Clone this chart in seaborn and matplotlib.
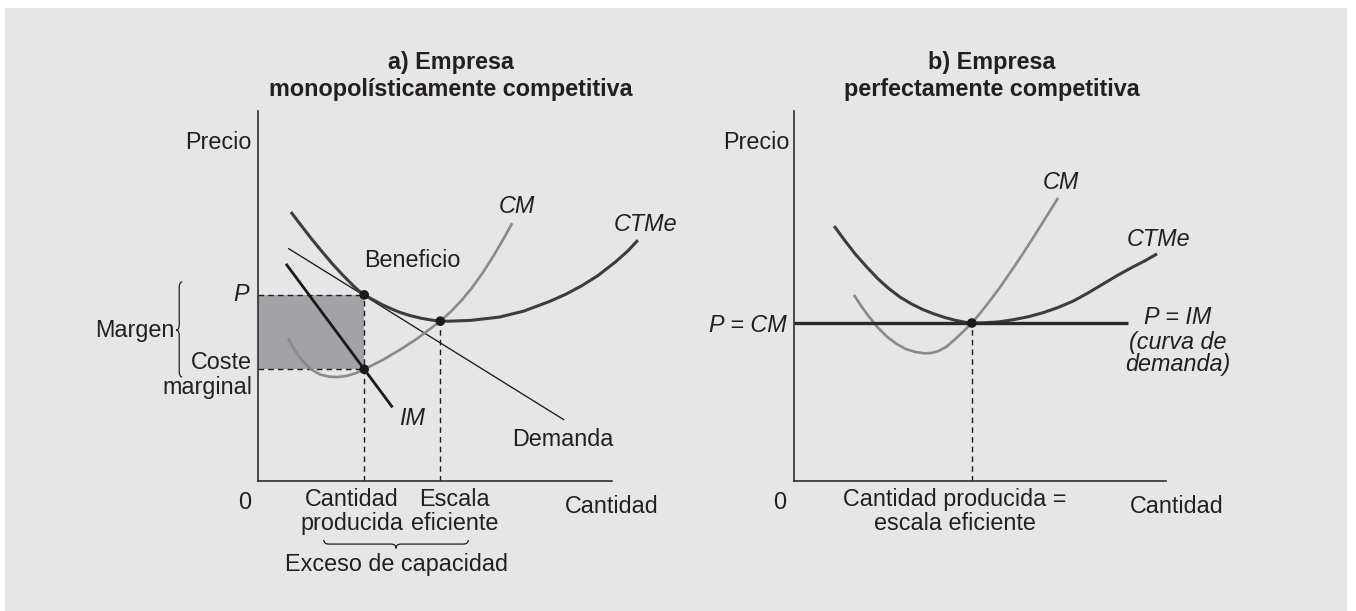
import matplotlib
matplotlib.use("Agg")
import matplotlib.pyplot as plt
from matplotlib.path import Path
from matplotlib.patches import PathPatch, Rectangle
import seaborn as sns

# ---------------- data ----------------
# Panel a: monopolistically competitive firm
a_ctme_x = [0.93, 1.20, 1.50, 1.80, 2.10, 2.40, 2.70, 2.85, 3.00, 3.25, 3.50, 3.75, 4.00,
            4.30, 4.60, 4.90, 5.15, 5.41, 6.00, 6.82, 7.50, 8.23, 8.70, 9.15, 9.60,
            10.11, 10.45, 10.73]
a_ctme_y = [7.27, 6.93, 6.56, 6.21, 5.87, 5.56, 5.27, 5.14, 5.03, 4.90, 4.77, 4.66, 4.56,
            4.47, 4.40, 4.35, 4.32, 4.32, 4.34, 4.43, 4.59, 4.85, 5.05, 5.28, 5.55,
            5.93, 6.22, 6.51]
a_cm_x = [0.85, 1.00, 1.15, 1.30, 1.50, 1.75, 2.00, 2.25, 2.50, 2.75, 3.00, 3.50, 4.00,
          4.50, 5.15, 5.45, 5.75, 6.05, 6.35, 6.65, 6.95, 7.18]
a_cm_y = [3.86, 3.60, 3.38, 3.20, 3.02, 2.88, 2.82, 2.81, 2.84, 2.91, 3.02, 3.26, 3.54,
          3.85, 4.32, 4.58, 4.88, 5.23, 5.63, 6.08, 6.57, 6.97]
a_dem_x = [0.85, 8.65]
a_dem_y = [6.29, 1.65]
a_im_x = [0.79, 3.80]
a_im_y = [5.87, 1.99]
a_q, a_p, a_mc = 3.00, 5.03, 3.02        # quantity produced, price, marginal cost
a_qe, a_pe = 5.15, 4.32                  # efficient scale

# Panel b: perfectly competitive firm
b_ctme_x = [1.08, 1.35, 1.65, 1.95, 2.25, 2.55, 2.85, 3.15, 3.45, 3.75, 4.05, 4.35, 4.60,
            4.78, 5.10, 5.50, 5.90, 6.30, 6.70, 7.10, 7.50, 7.90, 8.30, 8.70, 9.10,
            9.45, 9.76]
b_ctme_y = [6.89, 6.52, 6.13, 5.79, 5.47, 5.20, 4.97, 4.79, 4.64, 4.52, 4.42, 4.34, 4.29,
            4.27, 4.275, 4.30, 4.36, 4.44, 4.55, 4.69, 4.86, 5.08, 5.32, 5.56, 5.78,
            5.96, 6.14]
b_cm_x = [1.61, 1.80, 2.00, 2.25, 2.50, 2.75, 3.00, 3.25, 3.50, 3.70, 3.90, 4.10, 4.35,
          4.55, 4.78, 5.00, 5.25, 5.54, 5.85, 6.15, 6.45, 6.75, 7.10]
b_cm_y = [5.03, 4.74, 4.46, 4.15, 3.90, 3.71, 3.57, 3.49, 3.45, 3.46, 3.52, 3.63, 3.85,
          4.04, 4.27, 4.53, 4.85, 5.24, 5.69, 6.14, 6.61, 7.09, 7.65]
b_p = 4.27
b_pline_x = [0.0, 8.98]
b_q = 4.78

# ---------------- style ----------------
sns.set_theme(style="white")
plt.rcParams["font.family"] = ["Liberation Sans", "DejaVu Sans"]
TXT = "#231f20"
FS = 16.8
BG = "#e6e6e6"

W, H = 1356, 611
fig = plt.figure(figsize=(W / 100, H / 100), dpi=100, facecolor="white")
fig.patches.append(Rectangle((5 / W, 0), (1347 - 5) / W, 1 - 8 / H,
                             transform=fig.transFigure, facecolor=BG,
                             edgecolor="none", zorder=-10))

ax_a = fig.add_axes([258 / W, 1 - 481 / H, 354 / W, 370 / H])
ax_b = fig.add_axes([794 / W, 1 - 481 / H, 372 / W, 370 / H])


def style_ax(ax):
    ax.set_xlim(0, 10)
    ax.set_ylim(0, 10)
    ax.set_facecolor("none")
    for s in ["top", "right"]:
        ax.spines[s].set_visible(False)
    for s in ["left", "bottom"]:
        ax.spines[s].set_color("#2e2e2e")
        ax.spines[s].set_linewidth(1.2)
    ax.set_xticks([])
    ax.set_yticks([])
    ax.set_xlabel("")
    ax.set_ylabel("")


def txt(ax, x, y, s, ha="center", va="center", style="normal", weight="normal"):
    ax.text(x, y, s, ha=ha, va=va, fontsize=FS, color=TXT, fontstyle=style,
            fontweight=weight, clip_on=False)


def brace(ax, a0, a1, am, base, d, r, orient):
    pts = [(a1, 0), (a1, d / 2), (a1 - r, d / 2), (am + r, d / 2), (am, d / 2),
           (am, d), (am, d / 2), (am - r, d / 2), (a0 + r, d / 2), (a0, d / 2), (a0, 0)]
    if orient == "left":
        verts = [(base - v, u) for u, v in pts]
    else:
        verts = [(u, base - v) for u, v in pts]
    codes = [Path.MOVETO, Path.CURVE3, Path.CURVE3, Path.LINETO, Path.CURVE3,
             Path.CURVE3, Path.CURVE3, Path.CURVE3, Path.LINETO, Path.CURVE3, Path.CURVE3]
    ax.add_patch(PathPatch(Path(verts, codes), facecolor="none", edgecolor=TXT,
                           lw=0.9, clip_on=False))


DASH = (0, (4, 3))
LKW = dict(sort=False, estimator=None, legend=False)


def curve(ax, x, y, color, lw, z):
    sns.lineplot(x=x, y=y, ax=ax, color=color, linewidth=lw, zorder=z, **LKW)
    ln = ax.get_lines()[-1]
    ln.set_clip_on(False)
    ln.set_solid_joinstyle("round")
    ln.set_solid_capstyle("butt")


# ---------------- panel a ----------------
ax = ax_a
ax.fill_between([0, a_q], [a_mc, a_mc], [a_p, a_p], color="#a3a3a7", lw=0, zorder=1)
ax.plot([0, a_q], [a_p, a_p], ls=DASH, lw=1.0, color="#1e1e1e", zorder=2)
ax.plot([0, a_q], [a_mc, a_mc], ls=DASH, lw=1.0, color="#1e1e1e", zorder=2)
ax.plot([a_q, a_q], [0, a_p], ls=DASH, lw=1.0, color="#1e1e1e", zorder=2)
ax.plot([a_qe, a_qe], [0, a_pe], ls=DASH, lw=1.0, color="#1e1e1e", zorder=2)

curve(ax, a_dem_x, a_dem_y, "#1a1a1a", 0.95, 3)
curve(ax, a_cm_x, a_cm_y, "#8a8a8a", 1.9, 3)
curve(ax, a_ctme_x, a_ctme_y, "#3d3d3d", 2.2, 4)
curve(ax, a_im_x, a_im_y, "#1a1a1a", 2.0, 4)
sns.scatterplot(x=[a_q, a_q, a_qe], y=[a_p, a_mc, a_pe], ax=ax, s=48,
                color="#1a1a1a", edgecolor="none", zorder=6, legend=False)
style_ax(ax)

txt(ax, 5.44, 11.32, "a) Empresa", weight="bold")
txt(ax, 5.44, 10.57, "monopolísticamente competitiva", weight="bold")
txt(ax, -0.17, 9.14, "Precio", ha="right")
txt(ax, -0.25, 5.03, "P", ha="right", style="italic")
txt(ax, -0.17, 3.19, "Coste", ha="right")
txt(ax, -0.17, 2.54, "marginal", ha="right")
txt(ax, -2.37, 4.08, "Margen", ha="right")
brace(ax, 2.81, 5.38, 4.08, -2.14, 0.17, 0.15, "left")
txt(ax, -0.37, -0.57, "0")
txt(ax, 10.0, -0.70, "Cantidad")
txt(ax, 2.65, -0.51, "Cantidad")
txt(ax, 2.65, -1.14, "producida")
txt(ax, 5.55, -0.51, "Escala")
txt(ax, 5.55, -1.14, "eficiente")
brace(ax, 1.86, 5.94, 3.90, -1.59, 0.23, 0.14, "down")
txt(ax, 3.92, -2.27, "Exceso de capacidad")
txt(ax, 3.01, 5.97, "Beneficio", ha="left")
txt(ax, 7.32, 7.41, "CM", style="italic")
txt(ax, 10.96, 6.92, "CTMe", style="italic")
txt(ax, 4.34, 1.70, "IM", style="italic")
txt(ax, 8.62, 1.11, "Demanda")

# ---------------- panel b ----------------
ax = ax_b
ax.plot([b_q, b_q], [0, b_p], ls=DASH, lw=1.0, color="#1e1e1e", zorder=2)
curve(ax, b_cm_x, b_cm_y, "#8a8a8a", 1.9, 3)
curve(ax, b_ctme_x, b_ctme_y, "#3d3d3d", 2.2, 4)
curve(ax, b_pline_x, [b_p, b_p], "#2a2a2a", 2.4, 4)
sns.scatterplot(x=[b_q], y=[b_p], ax=ax, s=48, color="#1a1a1a",
                edgecolor="none", zorder=6, legend=False)
style_ax(ax)

txt(ax, 5.32, 11.32, "b) Empresa", weight="bold")
txt(ax, 5.32, 10.57, "perfectamente competitiva", weight="bold")
txt(ax, -0.11, 9.14, "Precio", ha="right")
txt(ax, -0.19, 4.20, "P = CM", ha="right", style="italic")
txt(ax, -0.38, -0.59, "0")
txt(ax, 4.33, -0.51, "Cantidad producida =")
txt(ax, 4.33, -1.14, "escala eficiente")
txt(ax, 10.3, -0.70, "Cantidad")
txt(ax, 7.18, 8.08, "CM", style="italic")
txt(ax, 9.81, 6.54, "CTMe", style="italic")
txt(ax, 10.32, 4.41, "P = IM", style="italic")
txt(ax, 10.32, 3.73, "(curva de", style="italic")
txt(ax, 10.32, 3.14, "demanda)", style="italic")

fig.savefig("out.png", dpi=100, facecolor=fig.get_facecolor())
